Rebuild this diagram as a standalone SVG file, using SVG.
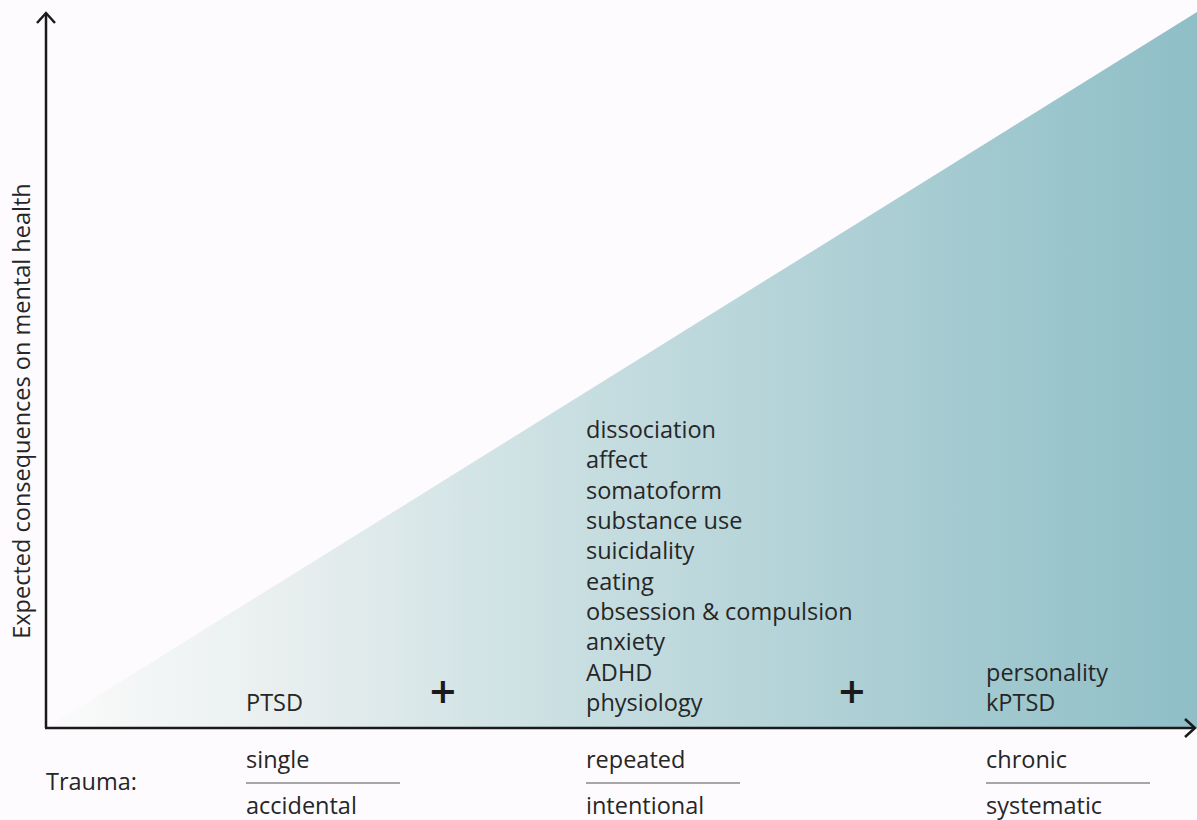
<svg xmlns="http://www.w3.org/2000/svg" width="1197" height="820" viewBox="0 0 1197 820">
  <defs>
    <linearGradient id="wedgeFill" gradientUnits="userSpaceOnUse" x1="46" y1="0" x2="1197" y2="0">
      <stop offset="0" stop-color="#fbfbfb"/>
      <stop offset="0.2" stop-color="#e9efef"/>
      <stop offset="0.48" stop-color="#c6dde0"/>
      <stop offset="0.78" stop-color="#a5cbd1"/>
      <stop offset="1" stop-color="#8fbec7"/>
    </linearGradient>
    <marker id="chevron" viewBox="0 0 20 20" refX="18" refY="10" markerWidth="20" markerHeight="20" markerUnits="userSpaceOnUse" orient="auto">
      <path d="M8 1 L18 10 L8 19" fill="none" stroke="#1a1a1a" stroke-width="2.5"/>
    </marker>
  </defs>
  <style>
    text { font-family: "Open Sans", "Liberation Sans", sans-serif; font-size: 23.5px; fill: #262626; }
    .plus { font-size: 46px; font-weight: 600; fill: #1a1a1a; }
    .divider { stroke: #8a8a8a; stroke-width: 1.6; }
    .axis { stroke: #1a1a1a; stroke-width: 2.5; fill: none; }
  </style>

  <rect width="1197" height="820" fill="#fdfbfd"/>

  <!-- rising wedge of severity -->
  <g id="wedge">
    <polygon points="46,728 1197,12 1197,728" fill="url(#wedgeFill)"/>
  </g>

  <!-- axes -->
  <g id="axes">
    <line class="axis" x1="46" y1="728" x2="46" y2="13" marker-end="url(#chevron)"/>
    <line class="axis" x1="45" y1="728" x2="1195" y2="728" marker-end="url(#chevron)"/>
  </g>

  <g id="y-label">
    <text transform="translate(30,411) rotate(-90)" text-anchor="middle">Expected consequences on mental health</text>
  </g>

  <!-- consequence groups -->
  <g id="group-single">
    <text x="246" y="711">PTSD</text>
  </g>
  <g id="plus-1">
    <text class="plus" x="443" y="708" text-anchor="middle">+</text>
  </g>
  <g id="group-repeated">
    <text x="586" y="438">dissociation</text>
    <text x="586" y="468.3">affect</text>
    <text x="586" y="498.7">somatoform</text>
    <text x="586" y="529">substance use</text>
    <text x="586" y="559.3">suicidality</text>
    <text x="586" y="589.7">eating</text>
    <text x="586" y="620">obsession &amp; compulsion</text>
    <text x="586" y="650.3">anxiety</text>
    <text x="586" y="680.7">ADHD</text>
    <text x="586" y="711">physiology</text>
  </g>
  <g id="plus-2">
    <text class="plus" x="852" y="708" text-anchor="middle">+</text>
  </g>
  <g id="group-chronic">
    <text x="986" y="681">personality</text>
    <text x="986" y="711">kPTSD</text>
  </g>

  <!-- trauma types below the axis -->
  <g id="trauma-label">
    <text x="46" y="790">Trauma:</text>
  </g>
  <g id="trauma-single">
    <text x="246" y="768">single</text>
    <line class="divider" x1="246" y1="783" x2="400" y2="783"/>
    <text x="246" y="814">accidental</text>
  </g>
  <g id="trauma-repeated">
    <text x="586" y="768">repeated</text>
    <line class="divider" x1="586" y1="783" x2="740" y2="783"/>
    <text x="586" y="814">intentional</text>
  </g>
  <g id="trauma-chronic">
    <text x="986" y="768">chronic</text>
    <line class="divider" x1="986" y1="783" x2="1150" y2="783"/>
    <text x="986" y="814">systematic</text>
  </g>
</svg>
